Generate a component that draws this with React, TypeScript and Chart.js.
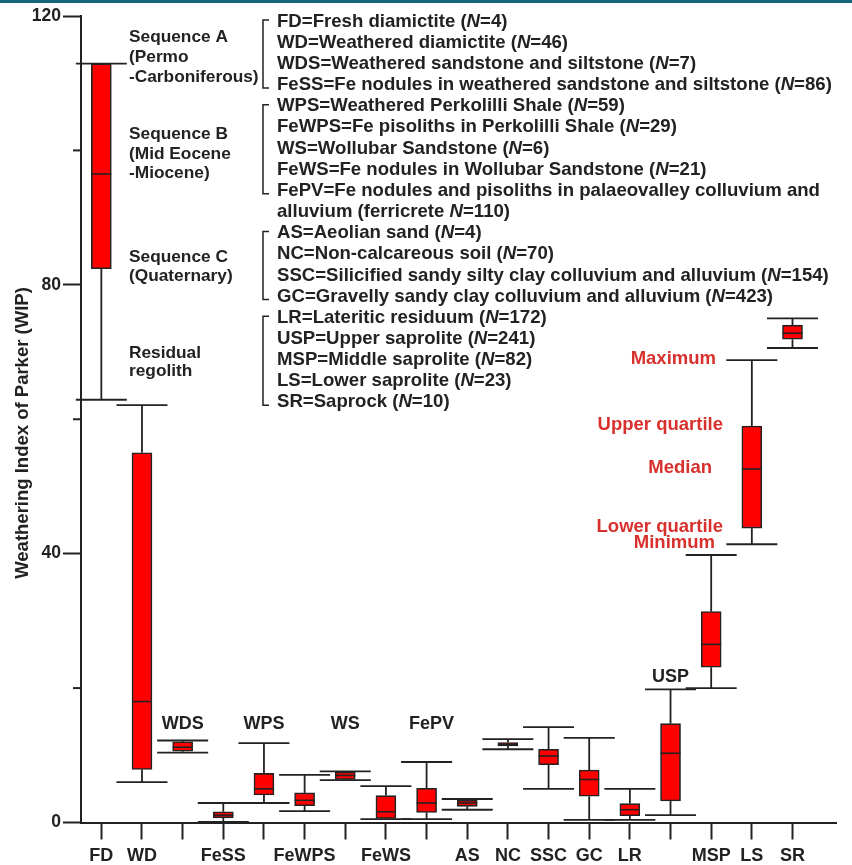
import React, { useEffect, useRef } from 'react';
import { Chart, registerables } from 'chart.js';

Chart.register(...registerables);

// ---------- data ----------
const categories = ['FD', 'WD', 'WDS', 'FeSS', 'WPS', 'FeWPS', 'WS', 'FeWS', 'FePV', 'AS', 'NC', 'SSC', 'GC', 'LR', 'USP', 'MSP', 'LS', 'SR'];
const axisLabels = ['FD', 'WD', '', 'FeSS', '', 'FeWPS', '', 'FeWS', '', 'AS', 'NC', 'SSC', 'GC', 'LR', '', 'MSP', 'LS', 'SR'];
const minValues = [62.9, 6.0, 10.4, 0.1, 2.9, 1.7, 6.3, 0.5, 0.5, 1.9, 10.9, 5.0, 0.4, 0.4, 1.1, 20.0, 41.4, 70.6];
const q1Values = [82.4, 7.9, 10.6, 0.7, 4.1, 2.5, 6.4, 0.6, 1.5, 2.4, 11.4, 8.6, 3.9, 1.0, 3.2, 23.1, 43.8, 71.9];
const medianValues = [96.5, 18.0, 11.2, 1.1, 5.0, 3.3, 7.0, 1.6, 2.9, 2.9, 11.6, 9.9, 6.4, 1.9, 10.3, 26.5, 52.6, 72.8];
const q3Values = [112.9, 55.0, 12.0, 1.6, 7.3, 4.4, 7.5, 4.0, 5.1, 3.3, 11.9, 10.9, 7.8, 2.8, 14.7, 31.4, 59.0, 74.0];
const maxValues = [112.9, 62.1, 12.2, 2.9, 11.8, 7.1, 7.6, 5.4, 9.0, 3.5, 12.4, 14.2, 12.6, 5.0, 19.8, 39.8, 68.8, 75.0];
const yTickValues = [0, 20, 40, 60, 80, 100, 120];
const yLabelledTicks = [0, 40, 80, 120];

const yTitle = 'Weathering Index of Parker (WIP)';
const groupLabels = [
  ['Sequence A', '(Permo', '-Carboniferous)'],
  ['Sequence B', '(Mid Eocene', '-Miocene)'],
  ['Sequence C', '(Quaternary)'],
  ['Residual', 'regolith'],
];
const legendGroups = [
  [
    'FD=Fresh diamictite ({N}=4)',
    'WD=Weathered diamictite ({N}=46)',
    'WDS=Weathered sandstone and siltstone ({N}=7)',
    'FeSS=Fe nodules in weathered sandstone and siltstone ({N}=86)',
  ],
  [
    'WPS=Weathered Perkolilli Shale ({N}=59)',
    'FeWPS=Fe pisoliths in Perkolilli Shale ({N}=29)',
    'WS=Wollubar Sandstone ({N}=6)',
    'FeWS=Fe nodules in Wollubar Sandstone ({N}=21)',
    'FePV=Fe nodules and pisoliths in palaeovalley colluvium and',
    '+alluvium (ferricrete {N}=110)',
  ],
  [
    'AS=Aeolian sand ({N}=4)',
    'NC=Non-calcareous soil ({N}=70)',
    'SSC=Silicified sandy silty clay colluvium and alluvium ({N}=154)',
    'GC=Gravelly sandy clay colluvium and alluvium ({N}=423)',
  ],
  [
    'LR=Lateritic residuum ({N}=172)',
    'USP=Upper saprolite ({N}=241)',
    'MSP=Middle saprolite ({N}=82)',
    'LS=Lower saprolite ({N}=23)',
    'SR=Saprock ({N}=10)',
  ],
];
const boxLabelCats = ['WDS', 'WPS', 'WS', 'FePV', 'USP'];
const keyLabels = ['Maximum', 'Upper quartile', 'Median', 'Lower quartile', 'Minimum'];
const keyCategory = 'LS';

// ---------- styles ----------
const FAMILY = '"Liberation Sans", Arial, Helvetica, sans-serif';
const INK = '#222222';
const BOX_RED = '#ff0000';
const NOTE_RED = '#d8302c';
const TEAL = '#17677a';

function drawRich(ctx: CanvasRenderingContext2D, text: string, x: number, y: number, size: number) {
  const parts = text.split('{N}');
  let cx = x;
  parts.forEach((p, idx) => {
    ctx.font = `bold ${size}px ${FAMILY}`;
    ctx.fillText(p, cx, y);
    cx += ctx.measureText(p).width;
    if (idx < parts.length - 1) {
      ctx.font = `italic bold ${size}px ${FAMILY}`;
      ctx.fillText('N', cx, y);
      cx += ctx.measureText('N').width;
    }
  });
}

function line(ctx: CanvasRenderingContext2D, x1: number, y1: number, x2: number, y2: number) {
  ctx.beginPath();
  ctx.moveTo(x1, y1);
  ctx.lineTo(x2, y2);
  ctx.stroke();
}

const CAP_HALF = 25.5;
const BOX_HALF = 10;

const boxPlugin = {
  id: 'boxWhiskers',
  beforeDatasetsDraw(chart: any) {
    const { ctx, scales } = chart;
    const x = scales.x;
    const y = scales.y;
    ctx.save();
    ctx.strokeStyle = INK;
    ctx.lineWidth = 1.8;
    categories.forEach((_, i) => {
      const px = x.getPixelForValue(i + 1);
      const pMax = y.getPixelForValue(maxValues[i]);
      const pMin = y.getPixelForValue(minValues[i]);
      const pQ1 = y.getPixelForValue(q1Values[i]);
      const pQ3 = y.getPixelForValue(q3Values[i]);
      line(ctx, px, pQ3, px, pMax);
      line(ctx, px, pQ1, px, pMin);
      line(ctx, px - CAP_HALF, pMax, px + CAP_HALF, pMax);
      line(ctx, px - CAP_HALF, pMin, px + CAP_HALF, pMin);
    });
    ctx.restore();
  },
  afterDatasetsDraw(chart: any) {
    const { ctx, scales } = chart;
    const x = scales.x;
    const y = scales.y;
    ctx.save();
    ctx.strokeStyle = INK;
    ctx.lineWidth = 1.6;
    categories.forEach((_, i) => {
      const px = x.getPixelForValue(i + 1);
      const pMed = y.getPixelForValue(medianValues[i]);
      line(ctx, px - BOX_HALF, pMed, px + BOX_HALF, pMed);
    });
    ctx.restore();
  },
  afterDraw(chart: any) {
    const { ctx, scales } = chart;
    const x = scales.x;
    const y = scales.y;
    ctx.save();
    // top strip
    ctx.fillStyle = TEAL;
    ctx.fillRect(0, 0, chart.width, 3);

    // minor y ticks
    ctx.strokeStyle = INK;
    ctx.lineWidth = 2;
    yTickValues.filter((v) => !yLabelledTicks.includes(v)).forEach((v) => {
      const py = y.getPixelForValue(v);
      line(ctx, y.right - 8, py, y.right, py);
    });

    // y title
    ctx.save();
    ctx.translate(23, 433);
    ctx.rotate(-Math.PI / 2);
    ctx.fillStyle = INK;
    ctx.font = `bold 18.5px ${FAMILY}`;
    ctx.textAlign = 'center';
    ctx.textBaseline = 'middle';
    ctx.fillText(yTitle, 0, 0);
    ctx.restore();

    // group labels
    ctx.fillStyle = INK;
    ctx.textAlign = 'left';
    ctx.textBaseline = 'alphabetic';
    ctx.font = `bold 17.3px ${FAMILY}`;
    const groupBaselines = [[41.7, 62, 82], [139.3, 158.5, 178.3], [261.7, 281], [357.5, 376]];
    groupLabels.forEach((g, gi) => {
      g.forEach((t, li) => ctx.fillText(t, 129, groupBaselines[gi][li]));
    });

    // legend with brackets
    ctx.textBaseline = 'middle';
    let idx = 0;
    const lineY = (k: number) => 21.6 + k * 21.15;
    legendGroups.forEach((g) => {
      let lastBracket = idx;
      const first = idx;
      g.forEach((t) => {
        const cont = t.startsWith('+');
        const txt = cont ? t.slice(1) : t;
        if (!cont) lastBracket = idx;
        drawRich(ctx, txt, 277, lineY(idx), 18.6);
        idx += 1;
      });
      ctx.lineWidth = 1.5;
      const top = lineY(first) - 1.5;
      const bot = lineY(lastBracket) + 3;
      ctx.beginPath();
      ctx.moveTo(269, top);
      ctx.lineTo(263, top);
      ctx.lineTo(263, bot);
      ctx.lineTo(269, bot);
      ctx.stroke();
    });

    // labels above boxes
    ctx.textAlign = 'center';
    ctx.font = `bold 18px ${FAMILY}`;
    boxLabelCats.forEach((c) => {
      const i = categories.indexOf(c);
      const level = c === 'USP' ? 21.6 : 14.7;
      const dx = c === 'FePV' ? 5 : 0;
      ctx.fillText(c, x.getPixelForValue(i + 1) + dx, y.getPixelForValue(level));
    });

    // key labels
    const k = categories.indexOf(keyCategory);
    const keyVals = [maxValues[k], q3Values[k], medianValues[k], q1Values[k], minValues[k]];
    const keyRight = [716, 723, 712, 723, 715];
    ctx.fillStyle = NOTE_RED;
    ctx.textAlign = 'right';
    ctx.font = `bold 18.5px ${FAMILY}`;
    keyLabels.forEach((t, j) => {
      ctx.fillText(t, keyRight[j], y.getPixelForValue(keyVals[j]) - 1.5);
    });
    ctx.restore();
  },
};

export default function App() {
  const ref = useRef<HTMLCanvasElement | null>(null);
  useEffect(() => {
    const canvas = ref.current;
    if (!canvas) return;
    const tickFont = { family: FAMILY, size: 18, weight: 'bold' as const };
    const chart = new Chart(canvas, {
      type: 'bar',
      data: {
        datasets: [
          {
            data: categories.map((_, i) => ({ x: i + 1, y: [q1Values[i], q3Values[i]] })) as any,
            backgroundColor: BOX_RED,
            borderColor: INK,
            borderWidth: 1.6,
            borderSkipped: false,
            barThickness: 20,
          },
        ],
      },
      options: {
        responsive: false,
        animation: false,
        layout: { padding: { left: 0, top: 16, right: 16, bottom: 0 } },
        plugins: { legend: { display: false }, tooltip: { enabled: false } },
        scales: {
          x: {
            type: 'linear',
            min: 0.5,
            max: 19.07,
            offset: false,
            afterBuildTicks: (s: any) => {
              s.ticks = categories.map((_, i) => ({ value: i + 1 }));
            },
            afterFit: (s: any) => {
              s.height = 42.5;
            },
            ticks: {
              autoSkip: false,
              maxRotation: 0,
              padding: 6,
              color: INK,
              font: tickFont,
              callback: (_v: any, index: number) => axisLabels[index] ?? '',
            },
            grid: { offset: false, drawOnChartArea: false, tickLength: 17, tickColor: INK, tickWidth: 2 },
            border: { display: true, color: INK, width: 2 },
          },
          y: {
            type: 'linear',
            min: 0,
            max: 120,
            afterBuildTicks: (s: any) => {
              s.ticks = yTickValues.map((v) => ({ value: v }));
            },
            afterFit: (s: any) => {
              s.width = 81;
            },
            ticks: {
              autoSkip: false,
              padding: 2,
              color: INK,
              font: { family: FAMILY, size: 17.5, weight: 'bold' as const },
              callback: (v: any) => (yLabelledTicks.includes(Number(v)) ? String(v) : ''),
            },
            grid: {
              drawOnChartArea: false,
              tickLength: 18,
              tickWidth: 2,
              tickColor: (c: any) => (c.tick && yLabelledTicks.includes(c.tick.value) ? INK : 'rgba(0,0,0,0)'),
            },
            border: { display: true, color: INK, width: 2 },
          },
        },
      },
      plugins: [boxPlugin],
    });
    return () => chart.destroy();
  }, []);
  return (
    <div style={{ position: 'absolute', left: 0, top: 0, width: 852, height: 865, background: '#ffffff' }}>
      <canvas ref={ref} width={852} height={865} style={{ display: 'block' }} />
    </div>
  );
}
